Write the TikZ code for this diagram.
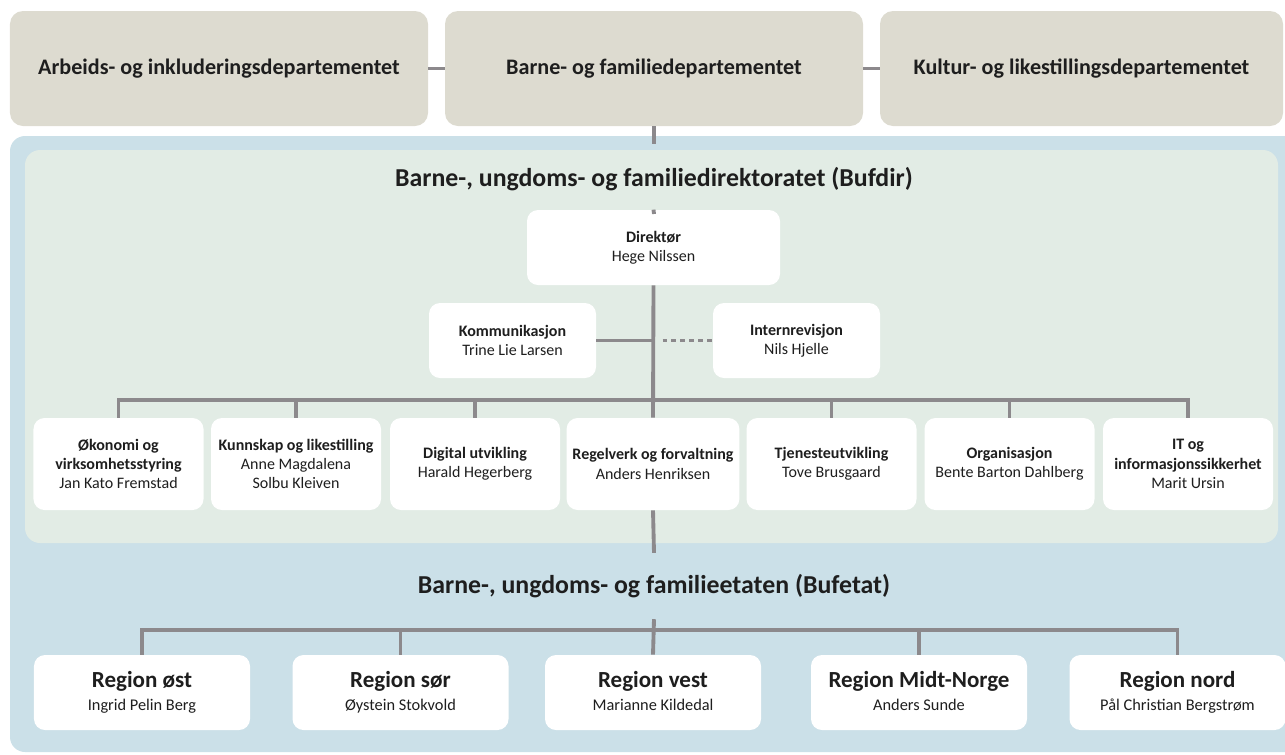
\documentclass[tikz,border=0pt]{standalone}
\usepackage{fontspec}
\setmainfont{Carlito}
\usepackage{tikz}
\usetikzlibrary{calc,backgrounds}

\definecolor{depgray}{HTML}{DDDBD0}
\definecolor{etatblue}{HTML}{CBE0E8}
\definecolor{dirgreen}{HTML}{E2ECE5}
\definecolor{linegray}{HTML}{8C898C}
\definecolor{ink}{HTML}{1E1E1E}

\tikzset{
	depbox/.style={fill=depgray, rounded corners=2.6mm, minimum width=83.6mm, minimum height=23mm,
		text=ink, font=\fontsize{12.6}{14}\selectfont\bfseries},
	unitbox/.style={fill=white, rounded corners=2.2mm, align=center, text=ink,
		font=\fontsize{9.1}{11}\selectfont},
	regionbox/.style={unitbox, minimum width=43.2mm, minimum height=15mm,
		font=\fontsize{9.3}{12.8}\selectfont},
	headline/.style={text=ink, inner xsep=2pt, font=\fontsize{14.7}{16}\selectfont\bfseries},
	link/.style={draw=linegray, line width=2.2pt},
}

\begin{document}
\begin{tikzpicture}[>=stealth,x=0.2mm,y=-0.2mm]
	
	%the frame
	\useasboundingbox (0,0) rectangle (1285,754);
	\clip (0,0) rectangle (1285,754);
	
	% the panels
	\fill[etatblue, rounded corners=3mm] (10,136) rectangle (1320,752);
	\fill[dirgreen, rounded corners=3mm] (25,150) rectangle (1278,543);
	
	% the ministries
	\node[depbox] (aid) at (219,68.5) {Arbeids- og inkluderingsdepartementet};
	\node[depbox] (bfd) at (654,68.5) {Barne- og familiedepartementet};
	\node[depbox, minimum width=80.6mm] (kud) at (1081.5,68.5) {Kultur- og likestillingsdepartementet};
	\draw[link] (aid) -- (bfd);
	\draw[link] (bfd) -- (kud);
	
	% the directorate
	\node[headline, inner ysep=13pt] (bufdir) at (654,179) {Barne-, ungdoms- og familiedirektoratet (Bufdir)};
	\node[unitbox, minimum width=50.6mm, minimum height=15mm] (dir) at (653.5,247.5) {\textbf{Direktør}\\Hege Nilssen};
	\draw[link] (bfd.south) -- (bufdir.north);
	\draw[link] (bufdir.south) -- (dir.north);
	
	% staff units
	\node[unitbox, minimum width=33.4mm, minimum height=15mm] (komm) at (512.5,340.5) {\textbf{Kommunikasjon}\\Trine Lie Larsen};
	\node[unitbox, minimum width=33.4mm, minimum height=15mm] (intern) at (796.5,340.5) {\textbf{Internrevisjon}\\Nils Hjelle};
	\draw[link] (komm.east) -- (komm.east -| dir.south);
	\draw[link, dash pattern=on 2.8pt off 2.3pt] (intern.west -| dir.south) ++(9,0) -- (intern.west);
	
	% the departments
	\coordinate (bus) at (0,400);
	\foreach \x/\name/\txt in {
		118.5/oko/{\textbf{Økonomi og}\\\textbf{virksomhetsstyring}\\Jan Kato Fremstad},
		296/kunn/{\textbf{Kunnskap og likestilling}\\Anne Magdalena\\Solbu Kleiven},
		475/digi/{\textbf{Digital utvikling}\\Harald Hegerberg},
		653/regel/{\textbf{Regelverk og forvaltning}\\Anders Henriksen},
		831.5/tjen/{\textbf{Tjenesteutvikling}\\Tove Brusgaard},
		1009.5/org/{\textbf{Organisasjon}\\Bente Barton Dahlberg},
		1188/it/{\textbf{IT og}\\\textbf{informasjonssikkerhet}\\Marit Ursin}}
		\node[unitbox, minimum width=34mm, minimum height=18.4mm] (\name) at (\x,464) {\txt};
	
	\draw[link] (oko.north) -- (oko.north |- bus) -- (it.north |- bus) -- (it.north);
	\foreach \name in {kunn,digi,tjen,org}
		\draw[link] (\name.north) -- (\name.north |- bus);
	\draw[link] (dir.south) -- (regel.north);
	
	% the agency
	\node[headline, inner ysep=12pt] (bufetat) at (654,586) {Barne-, ungdoms- og familieetaten (Bufetat)};
	\draw[link] (regel.south) -- (bufetat.north);
	
	\coordinate (bus2) at (0,630);
	\foreach \x/\name/\reg/\boss in {
		142/ost/øst/Ingrid Pelin Berg,
		400.5/sor/sør/Øystein Stokvold,
		653/vest/vest/Marianne Kildedal,
		919/midt/Midt-Norge/Anders Sunde,
		1177.5/nord/nord/Pål Christian Bergstrøm}
		\node[regionbox] (\name) at (\x,692.5) {{\fontsize{13.1}{15}\selectfont\bfseries\vphantom{Rdg}Region \reg}\\\vphantom{ÅPg}\boss};
	
	\draw[link] (ost.north) -- (ost.north |- bus2) -- (nord.north |- bus2) -- (nord.north);
	\foreach \name in {sor,midt}
		\draw[link] (\name.north) -- (\name.north |- bus2);
	\draw[link] (bufetat.south) -- (vest.north);
\end{tikzpicture}
\end{document}
